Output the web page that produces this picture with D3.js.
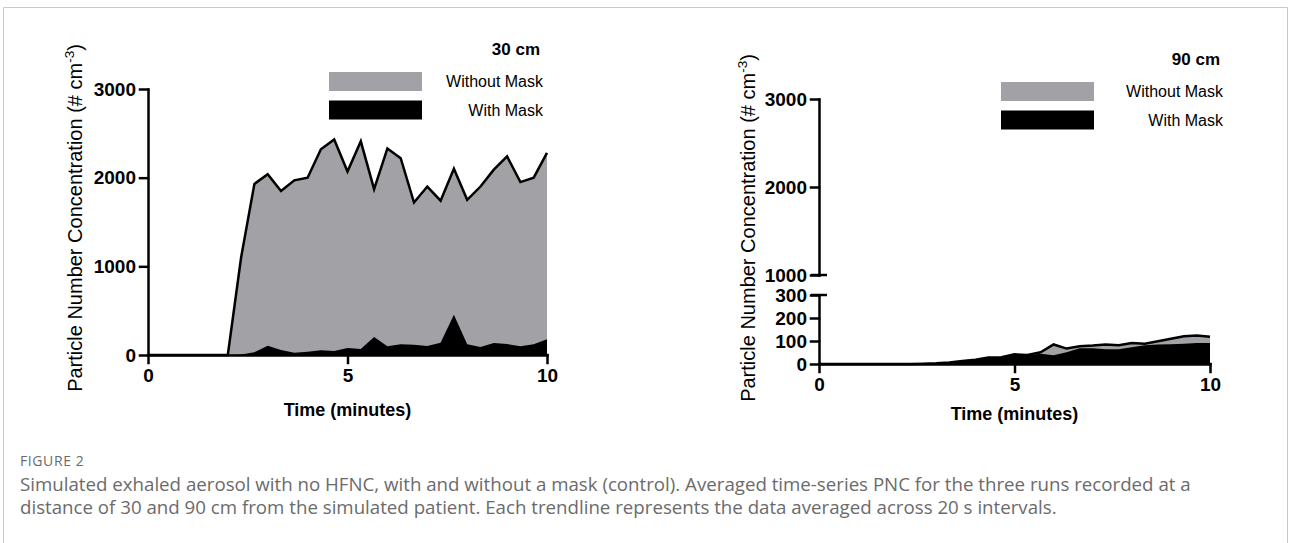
<!DOCTYPE html>
<html lang="en">
<meta charset="utf-8">
<head>
    <script src="https://d3js.org/d3.v7.min.js"></script>
    <style>
        body { margin: 0; background: #fff; }
    </style>
</head>
<body>
<script>

// time points, seconds (20 s averages)
const timeSec = [0, 20, 40, 60, 80, 100, 120, 140, 160, 180, 200, 220, 240, 260, 280, 300,
    320, 340, 360, 380, 400, 420, 440, 460, 480, 500, 520, 540, 560, 580, 600]

// 30 cm
const withoutMask30 = [0, 0, 0, 0, 0, 0, 0, 1100, 1930, 2040, 1850, 1970, 2000, 2320, 2430, 2070,
    2410, 1870, 2330, 2220, 1720, 1900, 1740, 2100, 1750, 1900, 2090, 2240, 1950, 2000, 2280]
const withMask30 = [0, 0, 0, 0, 0, 0, 0, 5, 30, 105, 56, 26, 38, 53, 45, 79,
    68, 203, 98, 120, 117, 102, 139, 455, 120, 90, 135, 124, 98, 120, 177]

// 90 cm
const withoutMask90 = [0, 0, 0, 0, 0, 0, 0, 0, 1, 3, 7, 13, 19, 28, 29, 42,
    39, 51, 85, 67, 77, 80, 85, 82, 91, 88, 99, 110, 121, 124, 118]
const withMask90 = [0, 0, 0, 0, 0, 0, 0, 0, 1, 3, 7, 13, 18, 27, 28, 40,
    38, 45, 38, 51, 69, 68, 64, 64, 73, 82, 85, 86, 88, 91, 91]

const xTicks = [0, 5, 10]
const yTicks30 = [0, 1000, 2000, 3000]
const yTicksLow = [0, 100, 200, 300]
const yTicksHigh = [1000, 2000, 3000]
const seriesNames = ["Without Mask", "With Mask"]

const grey = "#a2a1a6"
const font = "'Liberation Sans', Arial, sans-serif"

const svg = d3.select("body")
    .append("svg")
    .attr("width", 1290)
    .attr("height", 543)

// figure frame
svg.append("path")
    .attr("d", "M3.5,543V7.5H1287.5V543")
    .attr("fill", "none")
    .attr("stroke", "#c9c9c9")
    .attr("stroke-width", 1)

function styleAxis(g) {
    g.attr("font-family", font)
        .attr("font-size", 19)
        .attr("font-weight", "bold")
    g.selectAll("path, line")
        .attr("stroke", "#000")
        .attr("stroke-width", 2.5)
        .attr("stroke-linecap", "square")
    g.selectAll("text").attr("fill", "#000")
}

function drawPanel(opt) {
    const x = d3.scaleLinear().domain([0, 10]).range(opt.xRange)
    const y = opt.y
    const g = svg.append("g")

    const area = d3.area()
        .x((d, i) => x(timeSec[i] / 60))
        .y0(y(0))
        .y1(d => y(d))
    const line = d3.line()
        .x((d, i) => x(timeSec[i] / 60))
        .y(d => y(d))

    g.append("path")
        .attr("d", area(opt.without))
        .attr("fill", grey)
    g.append("path")
        .attr("d", line(opt.without))
        .attr("fill", "none")
        .attr("stroke", "#000")
        .attr("stroke-width", 2.5)
    g.append("path")
        .attr("d", area(opt.with))
        .attr("fill", "#000")

    // x axis
    g.append("g")
        .attr("transform", `translate(0,${y(0)})`)
        .call(d3.axisBottom(x).tickValues(xTicks).tickSize(8).tickSizeOuter(0).tickPadding(6))
        .call(styleAxis)

    // y axis (one or two segments)
    opt.yAxes.forEach(a => {
        g.append("g")
            .attr("transform", `translate(${opt.xRange[0]},0)`)
            .call(d3.axisLeft(a.scale).tickValues(a.ticks).tickFormat(d3.format("d"))
                .tickSize(8).tickSizeOuter(0).tickPadding(4))
            .call(styleAxis)
    })
    // break caps
    ;(opt.breaks || []).forEach(v => {
        g.append("line")
            .attr("x1", opt.xRange[0] - 8).attr("x2", opt.xRange[0] + 8)
            .attr("y1", v).attr("y2", v)
            .attr("stroke", "#000").attr("stroke-width", 2.5)
    })

    // axis titles
    g.append("text")
        .attr("x", (opt.xRange[0] + opt.xRange[1]) / 2)
        .attr("y", y(0) + opt.xTitleOffset)
        .attr("text-anchor", "middle")
        .attr("font-family", font)
        .attr("font-size", 18)
        .attr("font-weight", "bold")
        .text("Time (minutes)")

    const yl = g.append("text")
        .attr("transform", `translate(${opt.yLabelX},${opt.yLabelY}) rotate(-90)`)
        .attr("text-anchor", "middle")
        .attr("font-family", font)
        .attr("font-size", 20)
    yl.append("tspan").text("Particle Number Concentration (# cm")
    yl.append("tspan").attr("font-size", 13.5).attr("dy", -8).text("-3")
    yl.append("tspan").attr("dy", 8).text(")")

    // legend
    const lg = g.append("g")
    lg.append("text")
        .attr("x", opt.legendRight - 3).attr("y", opt.legendTop - 17)
        .attr("text-anchor", "end")
        .attr("font-family", font).attr("font-size", 17).attr("font-weight", "bold")
        .text(opt.title)
    seriesNames.forEach((name, i) => {
        lg.append("rect")
            .attr("x", opt.swatchX).attr("y", opt.legendTop + i * 28.5)
            .attr("width", 93).attr("height", 19)
            .attr("fill", i === 0 ? grey : "#000")
        lg.append("text")
            .attr("x", opt.legendRight).attr("y", opt.legendTop + 15 + i * 28.5)
            .attr("text-anchor", "end")
            .attr("font-family", font).attr("font-size", 16)
            .text(name)
    })
}

// 30 cm panel
const y30 = d3.scaleLinear().domain([0, 3000]).range([355, 89])
drawPanel({
    title: "30 cm",
    xRange: [148, 547],
    y: y30,
    yAxes: [{scale: y30, ticks: yTicks30}],
    without: withoutMask30,
    with: withMask30,
    xTitleOffset: 61,
    yLabelX: 82, yLabelY: 218,
    legendTop: 72, legendRight: 543, swatchX: 329
})

// 90 cm panel, broken y axis
const yLow = d3.scaleLinear().domain([0, 300]).range([364, 295])
const yHigh = d3.scaleLinear().domain([1000, 3000]).range([275, 99])
drawPanel({
    title: "90 cm",
    xRange: [819, 1210],
    y: yLow,
    yAxes: [{scale: yLow, ticks: yTicksLow}, {scale: yHigh, ticks: yTicksHigh}],
    breaks: [yLow(300), yHigh(1000)],
    without: withoutMask90,
    with: withMask90,
    xTitleOffset: 56,
    yLabelX: 755, yLabelY: 228,
    legendTop: 82, legendRight: 1223, swatchX: 1001
})

// caption
const cap = svg.append("g").attr("font-family", "'Open Sans', sans-serif").attr("fill", "#6b6b6b")
cap.append("text")
    .attr("x", 20).attr("y", 466)
    .attr("font-size", 14).attr("letter-spacing", 0.6)
    .text("FIGURE 2")
cap.append("text")
    .attr("x", 20).attr("y", 491)
    .attr("font-size", 18.7)
    .text("Simulated exhaled aerosol with no HFNC, with and without a mask (control). Averaged time-series PNC for the three runs recorded at a")
cap.append("text")
    .attr("x", 20).attr("y", 514)
    .attr("font-size", 18.7)
    .text("distance of 30 and 90 cm from the simulated patient. Each trendline represents the data averaged across 20 s intervals.")

</script>
</body>
</html>
